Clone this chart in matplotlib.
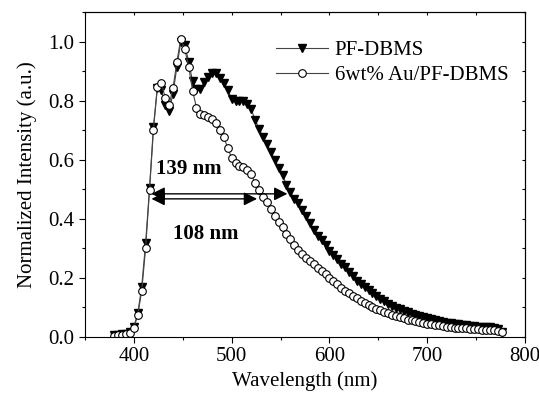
import numpy as np
import matplotlib.pyplot as plt
from matplotlib.ticker import MultipleLocator

plt.rcParams['font.family'] = ['Liberation Serif', 'DejaVu Serif']
plt.rcParams['mathtext.fontset'] = 'stix'

# emission wavelength grid (nm)
wavelength = [380, 384, 388, 392, 396, 400, 404, 408, 412, 416,
              420, 424, 428, 432, 436, 440, 444, 448, 452, 456,
              460, 464, 468, 472, 476, 480, 484, 488, 492, 496,
              500, 504, 508, 512, 516, 520, 524, 528, 532, 536,
              540, 544, 548, 552, 556, 560, 564, 568, 572, 576,
              580, 584, 588, 592, 596, 600, 604, 608, 612, 616,
              620, 624, 628, 632, 636, 640, 644, 648, 652, 656,
              660, 664, 668, 672, 676, 680, 684, 688, 692, 696,
              700, 704, 708, 712, 716, 720, 724, 728, 732, 736,
              740, 744, 748, 752, 756, 760, 764, 768, 772, 776]

# normalized PL, neat polymer
pf_dbms = [0.005, 0.006, 0.008, 0.010, 0.015, 0.034, 0.079, 0.170, 0.317, 0.503,
           0.712, 0.842, 0.836, 0.785, 0.766, 0.823, 0.915, 1.000, 0.989, 0.932,
           0.865, 0.840, 0.839, 0.864, 0.881, 0.893, 0.892, 0.876, 0.859, 0.836,
           0.805, 0.800, 0.800, 0.800, 0.790, 0.770, 0.735, 0.705, 0.678, 0.652,
           0.627, 0.600, 0.572, 0.548, 0.515, 0.490, 0.468, 0.452, 0.430, 0.410,
           0.385, 0.362, 0.342, 0.328, 0.310, 0.292, 0.277, 0.262, 0.247, 0.235,
           0.218, 0.204, 0.190, 0.178, 0.167, 0.157, 0.148, 0.138, 0.128, 0.120,
           0.112, 0.105, 0.098, 0.093, 0.088, 0.083, 0.078, 0.074, 0.070, 0.066,
           0.062, 0.059, 0.056, 0.053, 0.050, 0.048, 0.046, 0.044, 0.042, 0.040,
           0.039, 0.037, 0.036, 0.034, 0.033, 0.033, 0.032, 0.030, 0.025, 0.017]

# normalized PL, 6 wt% Au nanoparticles in the polymer
au_pf_dbms = [0.004, 0.005, 0.007, 0.009, 0.013, 0.030, 0.075, 0.155, 0.300, 0.497,
              0.700, 0.847, 0.861, 0.810, 0.785, 0.842, 0.932, 1.010, 0.975, 0.915,
              0.834, 0.776, 0.755, 0.750, 0.745, 0.738, 0.725, 0.700, 0.675, 0.640,
              0.605, 0.590, 0.580, 0.575, 0.565, 0.550, 0.520, 0.497, 0.475, 0.455,
              0.432, 0.410, 0.390, 0.370, 0.348, 0.330, 0.312, 0.295, 0.280, 0.268,
              0.256, 0.245, 0.234, 0.222, 0.211, 0.200, 0.188, 0.178, 0.165, 0.155,
              0.147, 0.138, 0.130, 0.122, 0.115, 0.108, 0.101, 0.095, 0.089, 0.084,
              0.079, 0.074, 0.070, 0.066, 0.062, 0.058, 0.055, 0.052, 0.049, 0.046,
              0.044, 0.042, 0.040, 0.038, 0.036, 0.034, 0.033, 0.031, 0.030, 0.029,
              0.028, 0.027, 0.026, 0.025, 0.024, 0.023, 0.022, 0.022, 0.020, 0.017]

fwhm_start = 418
fwhm_pf = 139
fwhm_au = 108

fig = plt.figure(figsize=(5.39, 3.94), dpi=100)
ax = fig.add_axes([0.1577, 0.1454, 0.8163, 0.8241])

ax.plot(wavelength, pf_dbms, color='#444444', lw=0.8, marker='v', ms=6,
        mfc='black', mec='black', label='PF-DBMS')
ax.plot(wavelength, au_pf_dbms, color='#444444', lw=0.8, marker='o', ms=5.5,
        mfc='white', mec='black', mew=0.8, label='6wt% Au/PF-DBMS')

# FWHM arrows
ax.annotate('', xy=(fwhm_start + fwhm_pf, 0.484), xytext=(fwhm_start, 0.484),
            arrowprops=dict(arrowstyle='<|-|>', color='black', lw=1,
                            mutation_scale=20, shrinkA=0, shrinkB=0))
ax.annotate('', xy=(fwhm_start + fwhm_au, 0.467), xytext=(fwhm_start, 0.467),
            arrowprops=dict(arrowstyle='<|-|>', color='black', lw=1,
                            mutation_scale=20, shrinkA=0, shrinkB=0))
ax.text(456.4, 0.568, '%d nm' % fwhm_pf, fontsize=15, fontweight='bold',
        ha='center', va='center')
ax.text(473.8, 0.348, '%d nm' % fwhm_au, fontsize=15, fontweight='bold',
        ha='center', va='center')

ax.set_xlim(350, 800)
ax.set_ylim(0, 1.1)
ax.xaxis.set_major_locator(MultipleLocator(100))
ax.xaxis.set_minor_locator(MultipleLocator(50))
ax.yaxis.set_major_locator(MultipleLocator(0.2))
ax.yaxis.set_minor_locator(MultipleLocator(0.1))
ax.yaxis.set_major_formatter(plt.FormatStrFormatter('%.1f'))
ax.tick_params(which='both', direction='out', labelsize=15, width=0.8)
ax.tick_params(which='major', length=4)
ax.tick_params(which='minor', length=2.5)

# inward ticks on the top and right frame
top = ax.secondary_xaxis('top')
top.set_xticks(np.arange(350, 801, 50))
top.tick_params(direction='in', length=2.5, labeltop=False, width=0.8)
right = ax.secondary_yaxis('right')
right.set_yticks(np.arange(0, 1.11, 0.1))
right.tick_params(direction='in', length=2.5, labelright=False, width=0.8)

for s in ax.spines.values():
    s.set_linewidth(0.8)

ax.set_xlabel('Wavelength (nm)', fontsize=15, labelpad=4)
ax.set_ylabel('Normalized Intensity (a.u.)', fontsize=15, labelpad=8)

ax.legend(loc='upper left', bbox_to_anchor=(0.435, 0.912), frameon=False,
          fontsize=15, numpoints=1, handlelength=2.5, handletextpad=0.3,
          labelspacing=0.25, borderpad=0, borderaxespad=0)

fig.savefig('out.png', dpi=100)
